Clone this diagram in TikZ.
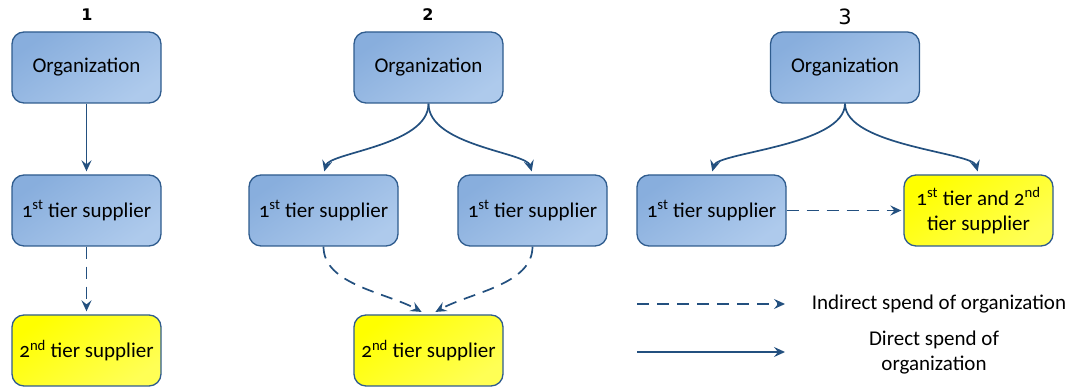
\documentclass[tikz,border=0pt]{standalone}
\usepackage{fontspec}
\setmainfont{Carlito}[Numbers=OldStyle]
\newfontfamily\headfont{DejaVu Sans}
\usetikzlibrary{arrows.meta,shadings}

\definecolor{boxline}{HTML}{2F5C8E}
\definecolor{blueA}{HTML}{88AEDD}
\definecolor{blueB}{HTML}{AECAEC}
\definecolor{yellowA}{HTML}{FFFF00}
\definecolor{yellowB}{HTML}{FFFF55}
\definecolor{arrowc}{HTML}{23507F}

\tikzset{
  entity/.style={draw=boxline, line width=1.3pt, rounded corners=12pt,
    minimum width=149pt, minimum height=71pt, align=center,
    font=\fontsize{21}{25}\selectfont, inner sep=2pt},
  orgbox/.style={entity, shading=axis, top color=blueA, bottom color=blueB, shading angle=35},
  endbox/.style={entity, shading=axis, top color=yellowA, bottom color=yellowB, shading angle=35},
  direct/.style={draw=arrowc, line width=1.7pt,
    -{Stealth[length=11pt,width=10pt,inset=4pt]}, shorten >=3pt},
  indirect/.style={direct, dash pattern=on 12pt off 8pt},
  heading/.style={font=\headfont\bfseries\fontsize{16}{19}\selectfont},
  legendtext/.style={align=center, font=\fontsize{21}{25}\selectfont}
}

\newcommand{\tierA}{1\textsuperscript{st} tier supplier}
\newcommand{\tierB}{2\textsuperscript{nd} tier supplier}

\begin{document}
\begin{tikzpicture}[x=1pt,y=1pt]
  \useasboundingbox (0,0) rectangle (1072,387);

  % column headings
  \node[heading] (h1) at (87,372) {1};
  \node[heading] (h2) at (428,372) {2};
  \node[heading, font=\headfont\fontsize{21}{24}\selectfont] (h3) at (845,370) {3};

  % case 1: a single chain
  \node[orgbox] (o1) at (86.5,319.5) {Organization};
  \node[orgbox] (t1) at (86.5,176.5) {\tierA};
  \node[endbox] (s1) at (86.5,36.5) {\tierB};
  \draw[direct] (o1.south) -- (t1.north);
  \draw[indirect] (t1.south) -- (s1.north);

  % case 2: two first tier suppliers share one second tier supplier
  \node[orgbox] (o2) at (428.5,319.5) {Organization};
  \node[orgbox] (t2a) at (323.5,176.5) {\tierA};
  \node[orgbox] (t2b) at (532.5,176.5) {\tierA};
  \node[endbox] (s2) at (428.5,36.5) {\tierB};
  \draw[direct] (o2.south) .. controls +(0,-42) and +(6,22) .. (t2a.north);
  \draw[direct] (o2.south) .. controls +(0,-42) and +(-6,22) .. (t2b.north);
  \coordinate (s2l) at ([xshift=-2.5pt]s2.north);
  \coordinate (s2r) at ([xshift=2.5pt]s2.north);
  \draw[indirect, shorten >=5pt] (t2a.south) .. controls +(0,-38) and +(-40,22) .. (s2l);
  \draw[indirect, shorten >=5pt] (t2b.south) .. controls +(0,-38) and +(40,22) .. (s2r);

  % case 3: one supplier at both tiers
  \node[orgbox] (o3) at (845,319.5) {Organization};
  \node[orgbox] (t3a) at (711.5,176.5) {\tierA};
  \node[endbox] (t3b) at (978.5,176.5) {1\textsuperscript{st} tier and 2\textsuperscript{nd}\\tier supplier};
  \draw[direct] (o3.south) .. controls +(0,-42) and +(6,22) .. (t3a.north);
  \draw[direct] (o3.south) .. controls +(0,-42) and +(-6,22) .. (t3b.north);
  \draw[indirect, shorten >=2pt] (t3a.east) -- (t3b.west);

  % legend
  \coordinate (la) at (637,83);
  \coordinate (lb) at (785,83);
  \coordinate (lc) at (637,35);
  \coordinate (ld) at (785,35);
  \draw[indirect, shorten >=0pt] (la) -- (lb);
  \draw[direct, shorten >=0pt] (lc) -- (ld);
  \node[legendtext] (lt1) at (939,83) {Indirect spend of organization};
  \node[legendtext] (lt2) at (934,34) {Direct spend of\\organization};
\end{tikzpicture}
\end{document}
